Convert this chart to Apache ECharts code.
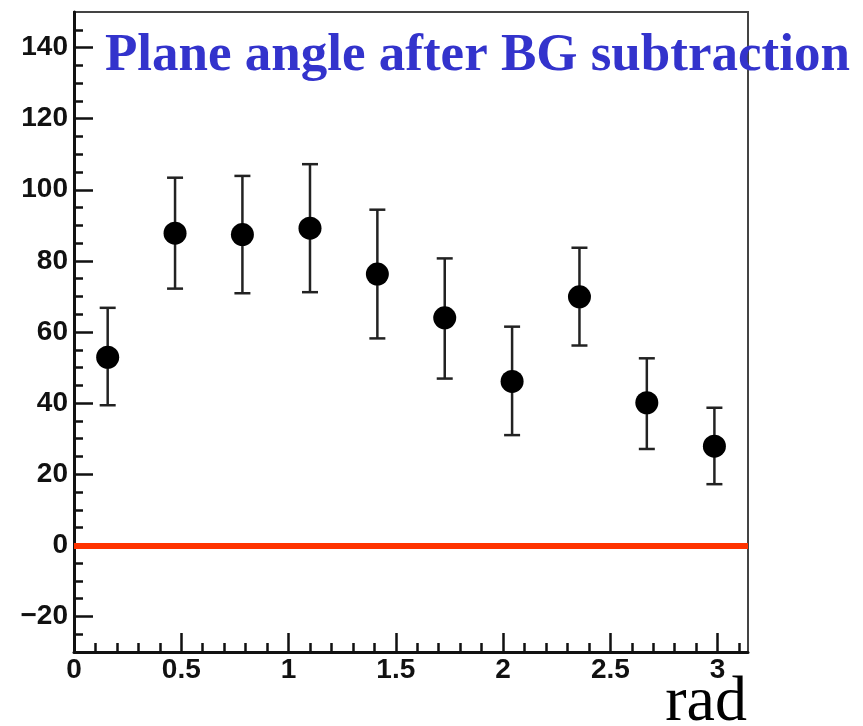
<!DOCTYPE html>
<html>
<head>
<meta charset="utf-8">
<script src="https://cdn.jsdelivr.net/npm/echarts@6/dist/echarts.min.js"></script>
<style>
html,body{margin:0;padding:0;background:#fff;}
#chart{width:863px;height:726px;}
</style>
</head>
<body>
<div id="chart"></div>
<script>
// Data
var binCenters = [0.157, 0.471, 0.785, 1.100, 1.414, 1.728, 2.042, 2.356, 2.670, 2.985];
var counts     = [52.9, 87.8, 87.4, 89.2, 76.3, 64.0, 46.1, 69.9, 40.1, 27.9];
var errHigh    = [66.8, 103.4, 103.9, 107.2, 94.4, 80.7, 61.5, 83.7, 52.6, 38.7];
var errLow     = [39.4, 72.2, 70.9, 71.2, 58.2, 46.9, 31.0, 56.2, 27.1, 17.2];
var xMajorTicks = [0, 0.5, 1, 1.5, 2, 2.5, 3];
var xMinorTicks = [0.1,0.2,0.3,0.4,0.6,0.7,0.8,0.9,1.1,1.2,1.3,1.4,1.6,1.7,1.8,1.9,2.1,2.2,2.3,2.4,2.6,2.7,2.8,2.9,3.1];
var yMajorTicks = [-20, 0, 20, 40, 60, 80, 100, 120, 140];
var yMinorTicks = [-25,-15,-10,-5,5,10,15,25,30,35,45,50,55,65,70,75,85,90,95,105,110,115,125,130,135,145];
var titleText = 'Plane angle after BG subtraction';
var xName = 'rad';
var refLineValue = 0;

var chart = echarts.init(document.getElementById('chart'));

var pts = binCenters.map(function (x, i) { return [x, counts[i]]; });
var errs = binCenters.map(function (x, i) { return [x, errLow[i], errHigh[i]]; });

var labelStyle = {fontFamily: 'Liberation Sans, Arial, sans-serif', fontWeight: 'bold', fontSize: 28, color: '#111'};
function minusFmt(v) { return String(v).replace('-', '\u2212'); }

var option = {
  backgroundColor: '#fff',
  animation: false,
  title: {
    text: titleText,
    left: 100, top: 25,
    textStyle: {fontFamily: 'Liberation Serif, Times New Roman, serif', fontWeight: 'bold', fontSize: 53, color: '#3333cc'},
    z: 20
  },
  graphic: [{
    type: 'text', right: 116, bottom: -9, z: 20,
    style: {text: xName, fontFamily: 'Liberation Serif, Times New Roman, serif', fontSize: 64, fill: '#000'}
  }],
  grid: {left: 74, right: 115, top: 12, bottom: 74, outerBoundsMode: 'none', containLabel: false,
         show: true, borderColor: '#444', borderWidth: 2, backgroundColor: '#fff'},
  xAxis: [{
    type: 'value', min: 0, max: Math.PI, position: 'bottom',
    axisLine: {show: true, onZero: false, lineStyle: {color: '#111', width: 3}},
    axisTick: {show: true, inside: true, length: 19, lineStyle: {color: '#111', width: 2.5}, customValues: xMajorTicks},
    axisLabel: Object.assign({margin: 4, customValues: xMajorTicks}, labelStyle),
    splitLine: {show: false}
  }, {
    type: 'value', min: 0, max: Math.PI, position: 'bottom',
    axisLine: {show: false, onZero: false},
    axisTick: {show: true, inside: true, length: 9, lineStyle: {color: '#111', width: 2.5}, customValues: xMinorTicks},
    axisLabel: {show: false},
    splitLine: {show: false}
  }],
  yAxis: [{
    type: 'value', min: -30, max: 150, position: 'left',
    axisLine: {show: true, onZero: false, lineStyle: {color: '#111', width: 3}},
    axisTick: {show: true, inside: true, length: 19, lineStyle: {color: '#111', width: 2.5}, customValues: yMajorTicks},
    axisLabel: Object.assign({margin: 6, customValues: yMajorTicks, formatter: minusFmt}, labelStyle),
    splitLine: {show: false}
  }, {
    type: 'value', min: -30, max: 150, position: 'left', offset: 0,
    axisLine: {show: false, onZero: false},
    axisTick: {show: true, inside: true, length: 9, lineStyle: {color: '#111', width: 2.5}, customValues: yMinorTicks},
    axisLabel: {show: false},
    splitLine: {show: false}
  }],
  series: [{
    type: 'custom',
    xAxisIndex: 0, yAxisIndex: 0,
    data: errs,
    renderItem: function (params, api) {
      var x = api.value(0);
      var lo = api.coord([x, api.value(1)]);
      var hi = api.coord([x, api.value(2)]);
      var cap = 8;
      var st = {stroke: '#222', lineWidth: 2.5};
      return {type: 'group', children: [
        {type: 'line', shape: {x1: lo[0], y1: lo[1], x2: hi[0], y2: hi[1]}, style: st},
        {type: 'line', shape: {x1: lo[0] - cap, y1: lo[1], x2: lo[0] + cap, y2: lo[1]}, style: st},
        {type: 'line', shape: {x1: hi[0] - cap, y1: hi[1], x2: hi[0] + cap, y2: hi[1]}, style: st}
      ]};
    },
    z: 3
  }, {
    type: 'scatter',
    xAxisIndex: 0, yAxisIndex: 0,
    data: pts,
    symbol: 'circle', symbolSize: 23,
    itemStyle: {color: '#000', opacity: 1},
    z: 4,
    markLine: {
      silent: true, symbol: 'none', label: {show: false},
      lineStyle: {color: '#ff3300', width: 6, type: 'solid', opacity: 1},
      data: [{yAxis: refLineValue}]
    }
  }]
};
chart.setOption(option);
</script>
</body>
</html>
